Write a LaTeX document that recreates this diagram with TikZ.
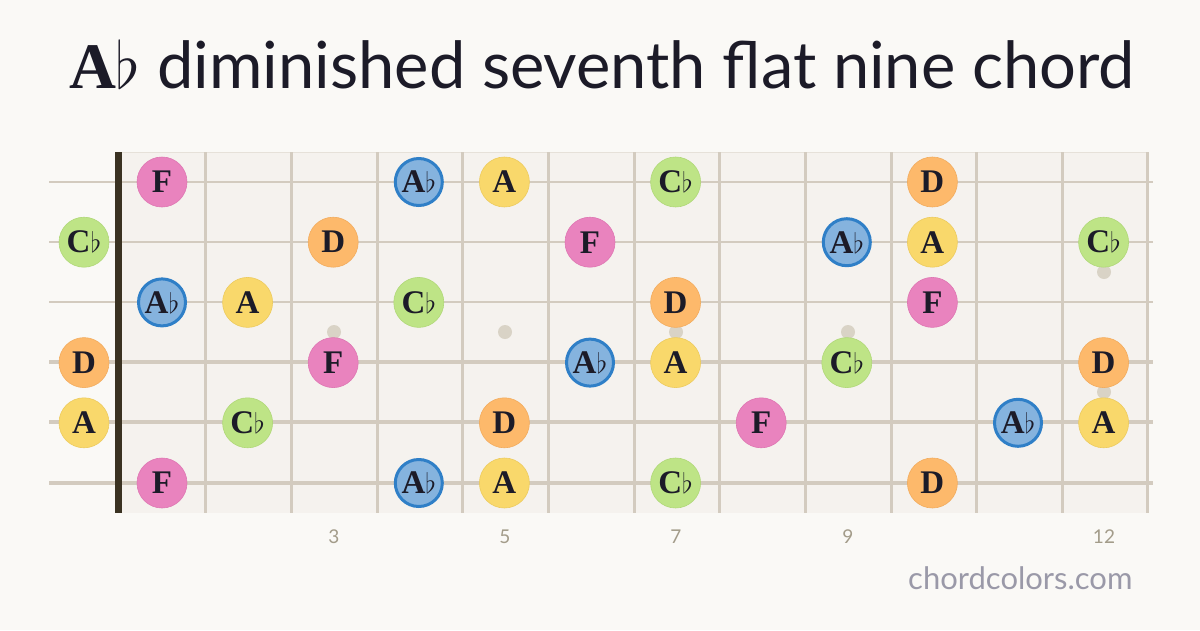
\RequirePackage{fix-cm}
\documentclass[tikz,border=0pt]{standalone}
\usepackage{fontspec}
\usepackage{graphicx}
\setmainfont{Liberation Serif}
\newfontfamily\titlefont{Lato}
\newfontfamily\labelfont{Lato}
\definecolor{bgcol}{HTML}{FAF9F6}
\definecolor{boardcol}{HTML}{F5F2EE}
\definecolor{boardedge}{HTML}{E6E1D9}
\definecolor{fretcol}{HTML}{D3CBBF}
\definecolor{nutcol}{HTML}{3A3222}
\definecolor{dotcol}{HTML}{D9D3C6}
\definecolor{inkcol}{HTML}{1C1B28}
\definecolor{numcol}{HTML}{A39C8A}
\definecolor{sitecol}{HTML}{9A99A8}
\definecolor{pinkc}{HTML}{E983BE}
\definecolor{pinkb}{HTML}{DE76B2}
\definecolor{greenc}{HTML}{BEE486}
\definecolor{greenb}{HTML}{B0D878}
\definecolor{yelc}{HTML}{F9D86B}
\definecolor{yelb}{HTML}{EDCB5E}
\definecolor{orac}{HTML}{FDB96B}
\definecolor{orab}{HTML}{F2AC5E}
\definecolor{bluec}{HTML}{85B3DE}
\definecolor{blueb}{HTML}{2F7FC7}
\tikzset{
  notebase/.style={circle, minimum size=50pt, inner sep=0pt, text=inkcol, font=\fontsize{33}{33}\selectfont\bfseries},
  nF/.style={notebase, fill=pinkc, draw=pinkb, line width=0.6pt},
  nC/.style={notebase, fill=greenc, draw=greenb, line width=0.6pt},
  nA/.style={notebase, fill=yelc, draw=yelb, line width=0.6pt},
  nD/.style={notebase, fill=orac, draw=orab, line width=0.6pt},
  nAb/.style={notebase, fill=bluec, draw=blueb, line width=3pt, minimum size=47pt},
  fretline/.style={draw=fretcol, line width=3pt},
  fretnum/.style={text=numcol, font=\labelfont\fontsize{19}{19}\selectfont},
  markdot/.style={circle, fill=dotcol, minimum size=14pt, inner sep=0pt},
}
\newcommand{\fl}{\scalebox{0.85}{\ensuremath{\flat}}}
\newcommand{\tfl}{\ensuremath{\flat}}
\begin{document}
\begin{tikzpicture}[x=1pt,y=-1pt]
\fill[bgcol] (0,0) rectangle (1200,630);
% board
\fill[boardcol] (122,152) rectangle (1148,513);
\draw[boardedge, line width=1.5pt] (122,152.5) -- (1148,152.5);
% frets
\foreach \fx in {205,291,377,462,548,634,719,805,891,976,1062,1147}
  \draw[fretline] (\fx,152) -- (\fx,513);
% strings
\foreach \sy/\sw in {182/2.2,242/2.5,302/2.8,362/3.1,422/3.5,483/4}
  \draw[fretcol, line width=\sw pt] (49,\sy) -- (1153,\sy);
% nut
\fill[nutcol] (115,152) rectangle (122,513);
% marker dots
\node[markdot] (m3) at (334,332) {};
\node[markdot] (m5) at (505,332) {};
\node[markdot] (m7) at (676,332) {};
\node[markdot] (m9) at (848,332) {};
\node[markdot] (m12a) at (1104,272) {};
\node[markdot] (m12b) at (1104,392) {};
% fret numbers
\node[fretnum] (f3) at (334,537) {3};
\node[fretnum] (f5) at (505,537) {5};
\node[fretnum] (f7) at (676,537) {7};
\node[fretnum] (f9) at (848,537) {9};
\node[fretnum] (f12) at (1104,537) {12};
% notes
\foreach \s/\f/\st/\lab in {
  1/1/nF/F, 1/4/nAb/A\fl, 1/5/nA/A, 1/7/nC/C\fl, 1/10/nD/D,
  2/0/nC/C\fl, 2/3/nD/D, 2/6/nF/F, 2/9/nAb/A\fl, 2/10/nA/A, 2/12/nC/C\fl,
  3/1/nAb/A\fl, 3/2/nA/A, 3/4/nC/C\fl, 3/7/nD/D, 3/10/nF/F,
  4/0/nD/D, 4/3/nF/F, 4/6/nAb/A\fl, 4/7/nA/A, 4/9/nC/C\fl, 4/12/nD/D,
  5/0/nA/A, 5/2/nC/C\fl, 5/5/nD/D, 5/8/nF/F, 5/11/nAb/A\fl, 5/12/nA/A,
  6/1/nF/F, 6/4/nAb/A\fl, 6/5/nA/A, 6/7/nC/C\fl, 6/10/nD/D}
{
  \pgfmathsetmacro{\nx}{\f==0 ? 84 : 162+85.6*(\f-1)}
  \pgfmathsetmacro{\ny}{182+60.2*(\s-1)}
  \node[\st] (n\s-\f) at (\nx,\ny) {\lab};
}
% title
\node[text=inkcol, anchor=center] (title) at (602,64)
  {\fontsize{65}{65}\selectfont\bfseries A\tfl\titlefont\mdseries{} diminished seventh flat nine chord};
\node[text=sitecol, anchor=east, font=\labelfont\fontsize{31}{31}\selectfont] (site) at (1136,578) {chordcolors.com};
\end{tikzpicture}
\end{document}
